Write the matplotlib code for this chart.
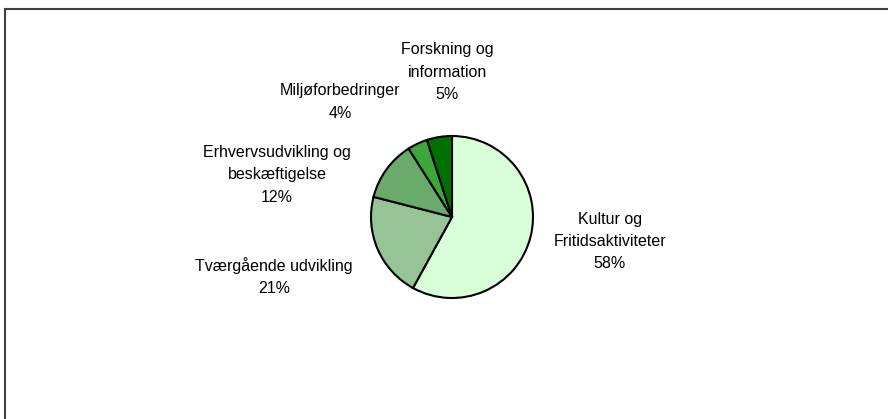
import matplotlib.pyplot as plt
from matplotlib.patches import Rectangle

# data
categories = ["Kultur og\nFritidsaktiviteter", "Tværgående udvikling",
              "Erhvervsudvikling og\nbeskæftigelse", "Miljøforbedringer",
              "Forskning og\ninformation"]
shares = [58, 21, 12, 4, 5]
colors = ["#d8ffd8", "#96c496", "#6aaa6a", "#3aa83a", "#007000"]

# label positions (in pie-radius units, relative to centre)
label_pos = [(1.95, -0.30), (-2.20, -0.73), (-2.16, 0.52), (-1.38, 1.42), (-0.06, 1.79)]

W, H = 888, 419
cx, cy, r = 452, 217, 81

fig = plt.figure(figsize=(W / 100, H / 100), dpi=100)
ax = fig.add_axes([0, 0, 1, 1])

ax.pie(shares, colors=colors, startangle=90, counterclock=False, radius=1,
       wedgeprops=dict(edgecolor='black', linewidth=1.5))

# pie() resets limits, so set them afterwards
ax.set_xlim(-cx / r, (W - cx) / r)
ax.set_ylim(-(H - cy) / r, cy / r)
ax.axis('off')

for name, val, (x, y) in zip(categories, shares, label_pos):
    ax.text(x, y, f"{name}\n{val}%", ha='center', va='center',
            fontsize=11.5, family='Liberation Sans', linespacing=1.6)

# outer frame (only top and left visible)
fig.patches.append(Rectangle((5 / W, -0.1), 1.2, (H - 9.5) / H + 0.1,
                             transform=fig.transFigure, fill=False,
                             edgecolor='#404040', linewidth=1.5))

fig.savefig("out.png", dpi=100)
